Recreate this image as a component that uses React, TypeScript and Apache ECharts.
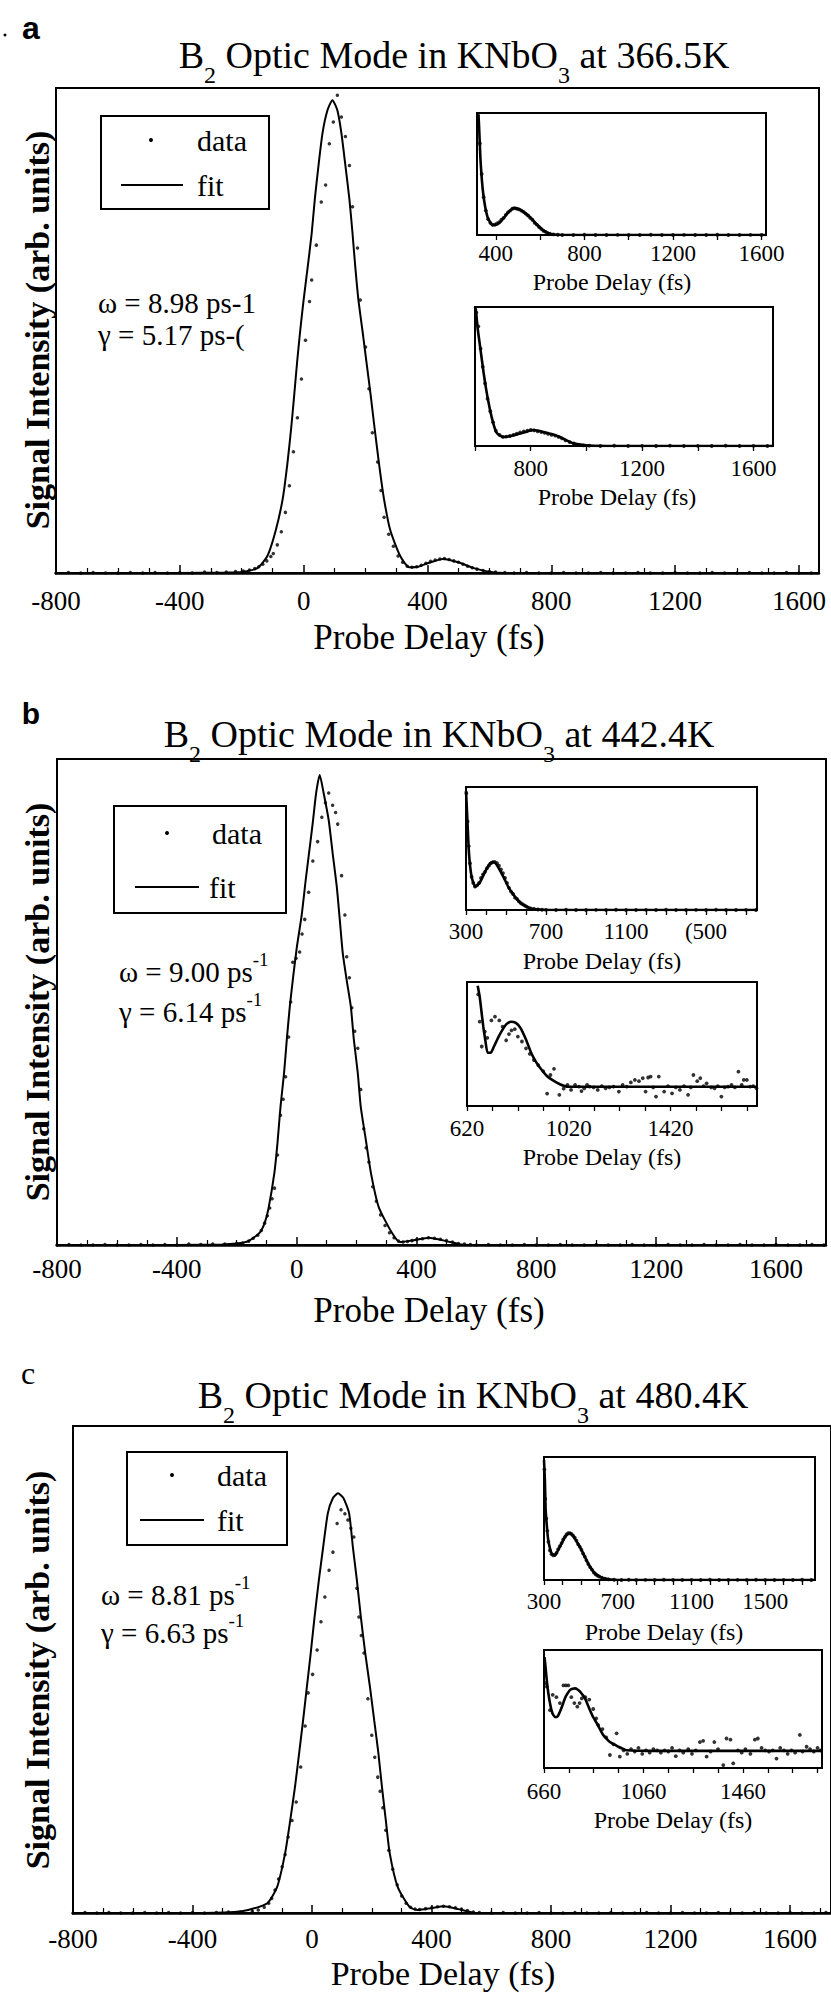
import React, { useEffect, useRef } from 'react';
import * as echarts from 'echarts';

const SERIF = '"Liberation Serif", "Times New Roman", Times, serif';
const SANS = '"Liberation Sans", Arial, Helvetica, sans-serif';

// ---------- texts ----------
const PANEL_LETTERS = ['a', 'b', 'c'];
const TEMPERATURES = ['366.5K', '442.4K', '480.4K'];
const X_TITLE = 'Probe Delay (fs)';
const Y_TITLE = 'Signal Intensity (arb. units)';
const LEGEND_LABELS = ['data', 'fit'];

// ---------- inset axes ----------
const A1_LABEL_VALUES = [400, 800, 1200, 1600];
const A1_LABELS = ['400', '800', '1200', '1600'];
const A1_TICKS = [400, 600, 800, 1000, 1200, 1400, 1600];
const A2_LABEL_VALUES = [800, 1200, 1600];
const A2_LABELS = ['800', '1200', '1600'];
const A2_TICKS = [600, 800, 1000, 1200, 1400, 1600];
const B1_LABEL_VALUES = [300, 700, 1100, 1500];
const B1_LABELS = ['300', '700', '1100', '(500'];
const B1_TICKS = [300, 400, 500, 600, 700, 800, 900, 1000, 1100, 1200, 1300, 1400, 1500, 1600, 1700];
const B2_LABEL_VALUES = [620, 1020, 1420];
const B2_LABELS = ['620', '1020', '1420'];
const B2_TICKS = [620, 720, 820, 920, 1020, 1120, 1220, 1320, 1420, 1520, 1620, 1720];
const C1_LABEL_VALUES = [300, 700, 1100, 1500];
const C1_LABELS = ['300', '700', '1100', '1500'];
const C1_TICKS = [300, 400, 500, 600, 700, 800, 900, 1000, 1100, 1200, 1300, 1400, 1500, 1600, 1700];
const C2_LABEL_VALUES = [660, 1060, 1460];
const C2_LABELS = ['660', '1060', '1460'];
const C2_TICKS = [660, 760, 860, 960, 1060, 1160, 1260, 1360, 1460, 1560, 1660, 1760];

// ---------- panel a, main ----------
const A_FIT_X = [-800, -400, -250, -200, -150, -117, -90, -67, -52, -40, -30, -21, -11, 0, 13, 26, 36, 48, 61, 77, 93, 109, 122, 135, 148, 158, 167, 177, 190, 203, 216, 229, 243, 259, 280, 312, 341, 370, 400, 450, 500, 550, 604, 650, 800, 1200, 1665];
const A_FIT_Y = [0, 0, 0.001, 0.002, 0.01, 0.035, 0.088, 0.155, 0.228, 0.30, 0.37, 0.435, 0.50, 0.563, 0.63, 0.70, 0.77, 0.84, 0.907, 0.954, 0.975, 0.954, 0.907, 0.84, 0.77, 0.70, 0.63, 0.563, 0.50, 0.435, 0.37, 0.30, 0.228, 0.155, 0.088, 0.035, 0.012, 0.013, 0.02, 0.029, 0.022, 0.01, 0.002, 0, 0, 0, 0];
const A_DATA_X = [-800, -760, -720, -680, -640, -600, -560, -520, -480, -440, -400, -360, -320, -280, -250, -220, -195, -175, -158, -145, -132, -119, -106, -98, -85, -72, -59, -46, -33, -20, -7, 6, 19, 26, 41, 57, 71, 83, 96, 109, 122, 135, 148, 158, 174, 183, 200, 211, 222, 239, 250, 260, 275, 290, 305, 320, 335, 350, 365, 380, 395, 410, 425, 440, 455, 470, 485, 500, 515, 530, 545, 560, 580, 600, 620, 650, 680, 720, 760, 800, 840, 880, 920, 960, 1000, 1040, 1080, 1120, 1160, 1200, 1240, 1280, 1320, 1360, 1400, 1440, 1480, 1520, 1560, 1600, 1640];
const A_DATA_Y = [0, 0.001, 0, 0.001, 0, 0, 0.001, 0, 0.001, 0, 0.001, 0, 0.002, 0.001, 0.002, 0.003, 0.004, 0.006, 0.009, 0.013, 0.018, 0.025, 0.034, 0.04, 0.058, 0.085, 0.125, 0.18, 0.25, 0.32, 0.40, 0.48, 0.56, 0.604, 0.676, 0.765, 0.80, 0.885, 0.93, 0.985, 0.94, 0.90, 0.84, 0.755, 0.67, 0.563, 0.466, 0.38, 0.289, 0.229, 0.17, 0.115, 0.08, 0.055, 0.035, 0.022, 0.014, 0.012, 0.013, 0.016, 0.02, 0.024, 0.027, 0.029, 0.03, 0.028, 0.025, 0.022, 0.018, 0.014, 0.011, 0.008, 0.005, 0.003, 0.002, 0.001, 0, 0.001, 0, 0, 0.001, 0, 0, 0.001, 0, 0, 0.001, 0, 0, 0.001, 0, 0, 0.001, 0, 0, 0.001, 0, 0, 0.001, 0, 0];

// ---------- panel a, insets ----------
const A1_FIT_X = [315, 322, 331, 343, 362, 386, 405, 422, 440, 458, 481, 500, 517, 535, 553, 571, 589, 607, 625, 643, 661, 700, 800, 1000, 1200, 1400, 1620];
const A1_FIT_Y = [1.0, 0.97, 0.61, 0.34, 0.15, 0.08, 0.085, 0.11, 0.15, 0.19, 0.22, 0.215, 0.20, 0.175, 0.15, 0.115, 0.08, 0.05, 0.025, 0.01, 0.003, 0, 0, 0, 0, 0, 0];
const A1_DATA_X = [320, 328, 336, 345, 355, 365, 375, 385, 395, 405, 415, 425, 435, 445, 455, 465, 475, 485, 495, 505, 515, 525, 535, 545, 555, 565, 575, 585, 595, 605, 615, 625, 635, 645, 660, 680, 700, 750, 800, 850, 900, 950, 1000, 1050, 1100, 1150, 1200, 1250, 1300, 1350, 1400, 1450, 1500, 1550, 1600];
const A1_DATA_Y = [0.98, 0.75, 0.5, 0.31, 0.2, 0.13, 0.1, 0.085, 0.085, 0.095, 0.105, 0.125, 0.14, 0.165, 0.185, 0.2, 0.215, 0.22, 0.215, 0.21, 0.2, 0.19, 0.175, 0.16, 0.14, 0.125, 0.1, 0.085, 0.065, 0.05, 0.035, 0.025, 0.015, 0.01, 0.005, 0.002, 0, 0, 0.002, 0, 0, 0.001, 0, 0, 0.002, 0, 0, 0.001, 0, 0, 0.002, 0, 0, 0.001, 0];
const A2_FIT_X = [600, 603, 610, 620, 630, 639, 648, 656, 666, 676, 690, 705, 724, 743, 762, 781, 795, 809, 828, 847, 866, 886, 905, 924, 952, 980, 1010, 1100, 1300, 1500, 1670];
const A2_FIT_Y = [1.0, 0.98, 0.84, 0.69, 0.54, 0.42, 0.32, 0.24, 0.16, 0.10, 0.075, 0.065, 0.07, 0.08, 0.09, 0.10, 0.11, 0.115, 0.11, 0.10, 0.09, 0.08, 0.065, 0.045, 0.02, 0.01, 0.003, 0, 0, 0, 0];
const A2_DATA_X = [605, 612, 620, 628, 636, 645, 655, 665, 675, 688, 700, 712, 725, 738, 750, 762, 775, 788, 800, 812, 825, 838, 850, 862, 875, 888, 900, 912, 925, 940, 955, 970, 990, 1010, 1050, 1100, 1150, 1200, 1250, 1300, 1350, 1400, 1450, 1500, 1550, 1600, 1650];
const A2_DATA_Y = [0.96, 0.86, 0.7, 0.57, 0.45, 0.34, 0.25, 0.17, 0.11, 0.08, 0.065, 0.068, 0.072, 0.08, 0.088, 0.098, 0.105, 0.11, 0.115, 0.112, 0.105, 0.1, 0.095, 0.088, 0.08, 0.075, 0.065, 0.055, 0.04, 0.028, 0.018, 0.01, 0.004, 0.002, 0, 0.002, 0, 0.001, 0, 0.002, 0, 0.001, 0, 0.002, 0, 0.001, 0];

// ---------- panel b, main ----------
const B_FIT_X = [-800, -400, -250, -200, -161, -124, -107, -94, -74, -64, -54, -42, -33, -23, -12, 0, 17, 30, 42, 54, 65, 77, 90, 107, 120, 134, 144, 154, 167, 181, 191, 204, 214, 231, 248, 274, 318, 345, 390, 442, 500, 549, 600, 800, 1200, 1767];
const B_FIT_Y = [0, 0, 0.001, 0.003, 0.008, 0.025, 0.045, 0.075, 0.15, 0.21, 0.284, 0.354, 0.422, 0.49, 0.55, 0.61, 0.68, 0.75, 0.81, 0.87, 0.93, 0.967, 0.93, 0.874, 0.807, 0.737, 0.669, 0.60, 0.545, 0.49, 0.422, 0.354, 0.284, 0.216, 0.148, 0.078, 0.025, 0.006, 0.01, 0.015, 0.008, 0.001, 0, 0, 0, 0];
const B_DATA_X = [-800, -760, -720, -680, -640, -600, -560, -520, -480, -440, -400, -360, -320, -280, -240, -200, -180, -160, -145, -130, -118, -107, -98, -90, -82, -74, -64, -54, -45, -37, -27, -20, -13, -2, 10, 18, 27, 40, 54, 70, 84, 96, 107, 120, 130, 137, 150, 161, 167, 176, 184, 194, 204, 214, 224, 232, 241, 254, 266, 280, 295, 310, 325, 340, 355, 370, 385, 400, 420, 440, 460, 480, 500, 520, 540, 560, 580, 600, 640, 680, 720, 760, 800, 840, 880, 920, 960, 1000, 1040, 1080, 1120, 1160, 1200, 1240, 1280, 1320, 1360, 1400, 1440, 1480, 1520, 1560, 1600, 1640, 1680, 1720, 1760];
const B_DATA_Y = [0, 0.001, 0, 0, 0.001, 0, 0, 0.001, 0, 0.001, 0, 0.002, 0.001, 0.002, 0.002, 0.003, 0.004, 0.008, 0.014, 0.02, 0.03, 0.045, 0.06, 0.076, 0.095, 0.117, 0.185, 0.267, 0.30, 0.346, 0.428, 0.50, 0.582, 0.59, 0.603, 0.64, 0.67, 0.726, 0.79, 0.83, 0.88, 0.91, 0.93, 0.905, 0.89, 0.866, 0.76, 0.679, 0.593, 0.55, 0.488, 0.44, 0.405, 0.32, 0.239, 0.2, 0.171, 0.12, 0.09, 0.062, 0.04, 0.025, 0.015, 0.008, 0.006, 0.007, 0.009, 0.011, 0.013, 0.015, 0.014, 0.012, 0.009, 0.006, 0.003, 0.002, 0.001, 0, 0.001, 0, 0, 0.001, 0, 0, 0.001, 0, 0, 0.001, 0, 0, 0.001, 0, 0, 0.001, 0, 0, 0.001, 0, 0, 0.001, 0, 0, 0.001, 0, 0, 0.001, 0];

// ---------- panel b, insets ----------
const B1_FIT_X = [300, 305, 315, 328, 347, 368, 395, 420, 440, 460, 487, 514, 540, 554, 570, 593, 620, 650, 680, 750, 1000, 1300, 1755];
const B1_FIT_Y = [0.97, 0.8, 0.46, 0.27, 0.19, 0.22, 0.31, 0.38, 0.39, 0.35, 0.27, 0.18, 0.12, 0.09, 0.06, 0.035, 0.015, 0.006, 0.002, 0, 0, 0, 0];
const B1_DATA_X = [302, 308, 314, 320, 328, 336, 345, 355, 365, 375, 385, 395, 405, 415, 425, 435, 445, 455, 465, 475, 485, 495, 505, 515, 525, 535, 545, 555, 565, 575, 585, 595, 605, 620, 640, 660, 680, 700, 750, 800, 850, 900, 950, 1000, 1050, 1100, 1150, 1200, 1250, 1300, 1350, 1400, 1450, 1500, 1550, 1600, 1650, 1700, 1750];
const B1_DATA_Y = [0.95, 0.72, 0.52, 0.38, 0.27, 0.22, 0.19, 0.2, 0.22, 0.26, 0.29, 0.31, 0.34, 0.36, 0.38, 0.39, 0.39, 0.38, 0.36, 0.33, 0.3, 0.26, 0.22, 0.18, 0.15, 0.13, 0.1, 0.09, 0.07, 0.055, 0.045, 0.035, 0.025, 0.015, 0.008, 0.004, 0.002, 0.001, 0, 0.002, 0, 0, 0.001, 0, 0.002, 0, 0, 0.001, 0, 0.002, 0, 0, 0.001, 0, 0.002, 0, 0, 0.001, 0];
const B2_FIT_X = [662, 670, 677, 684, 692, 701, 713, 726, 742, 758, 775, 793, 812, 830, 851, 872, 893, 914, 935, 955, 985, 1018, 1100, 1300, 1500, 1760];
const B2_FIT_Y = [0.97, 0.88, 0.76, 0.64, 0.53, 0.43, 0.43, 0.48, 0.55, 0.61, 0.66, 0.68, 0.67, 0.63, 0.54, 0.43, 0.35, 0.29, 0.24, 0.21, 0.175, 0.155, 0.155, 0.155, 0.155, 0.155];
const B2_DATA_X = [664, 670, 678, 690, 700, 716, 730, 747, 760, 774, 785, 795, 808, 820, 836, 852, 867, 883, 900, 920, 935, 948, 962, 983, 1000, 1015, 1029, 1045, 1060, 1070, 1081, 1092, 1102, 1118, 1134, 1150, 1165, 1180, 1196, 1217, 1232, 1248, 1264, 1280, 1296, 1311, 1322, 1332, 1342, 1352, 1363, 1374, 1395, 1410, 1426, 1441, 1457, 1473, 1489, 1500, 1510, 1525, 1537, 1550, 1562, 1580, 1593, 1606, 1620, 1633, 1646, 1660, 1673, 1687, 1700, 1708, 1720, 1733, 1745, 1758];
const B2_DATA_Y = [0.9, 0.68, 0.48, 0.6, 0.55, 0.69, 0.72, 0.69, 0.64, 0.53, 0.58, 0.61, 0.62, 0.56, 0.52, 0.465, 0.42, 0.37, 0.33, 0.28, 0.10, 0.25, 0.30, 0.09, 0.14, 0.17, 0.13, 0.17, 0.156, 0.12, 0.143, 0.17, 0.156, 0.15, 0.13, 0.16, 0.143, 0.15, 0.156, 0.116, 0.17, 0.156, 0.19, 0.21, 0.2, 0.224, 0.116, 0.23, 0.237, 0.15, 0.076, 0.237, 0.116, 0.16, 0.102, 0.15, 0.13, 0.16, 0.09, 0.15, 0.25, 0.2, 0.224, 0.16, 0.183, 0.15, 0.143, 0.16, 0.076, 0.15, 0.156, 0.17, 0.15, 0.277, 0.17, 0.21, 0.21, 0.156, 0.16, 0.143];

// ---------- panel c, main ----------
const C_FIT_X = [-800, -400, -260, -214, -150, -117, -90, -73, -57, -43, -31, -18, -5, 8, 23, 37, 53, 70, 87, 105, 124, 137, 150, 163, 178, 194, 208, 222, 234, 247, 260, 287, 327, 354, 400, 441, 490, 548, 600, 800, 1200, 1737];
const C_FIT_Y = [0, 0, 0.002, 0.006, 0.02, 0.053, 0.123, 0.19, 0.259, 0.329, 0.39, 0.46, 0.53, 0.605, 0.684, 0.75, 0.821, 0.852, 0.862, 0.852, 0.821, 0.75, 0.684, 0.61, 0.534, 0.464, 0.396, 0.329, 0.259, 0.19, 0.123, 0.053, 0.012, 0.006, 0.01, 0.014, 0.008, 0, 0, 0, 0, 0];
const C_DATA_X = [-800, -760, -720, -680, -640, -600, -560, -520, -480, -440, -400, -360, -320, -280, -240, -200, -180, -160, -145, -135, -124, -112, -100, -90, -80, -67, -53, -38, -23, -13, 2, 17, 30, 43, 57, 70, 84, 97, 110, 120, 130, 140, 150, 157, 165, 174, 187, 200, 210, 220, 228, 237, 247, 257, 270, 285, 300, 315, 330, 345, 360, 380, 400, 420, 440, 460, 480, 500, 520, 540, 560, 600, 640, 680, 720, 760, 800, 840, 880, 920, 960, 1000, 1040, 1080, 1120, 1160, 1200, 1240, 1280, 1320, 1360, 1400, 1440, 1480, 1520, 1560, 1600, 1640, 1680, 1720];
const C_DATA_Y = [0, 0.001, 0, 0.001, 0, 0, 0.001, 0, 0.001, 0, 0.001, 0, 0.001, 0.002, 0.002, 0.004, 0.006, 0.012, 0.02, 0.03, 0.047, 0.07, 0.095, 0.12, 0.156, 0.19, 0.228, 0.3, 0.384, 0.452, 0.49, 0.54, 0.598, 0.649, 0.704, 0.741, 0.80, 0.828, 0.82, 0.807, 0.79, 0.772, 0.667, 0.608, 0.57, 0.534, 0.44, 0.365, 0.32, 0.279, 0.25, 0.216, 0.17, 0.129, 0.09, 0.058, 0.035, 0.02, 0.012, 0.008, 0.007, 0.009, 0.011, 0.013, 0.014, 0.013, 0.011, 0.008, 0.005, 0.002, 0.001, 0, 0.001, 0, 0, 0.001, 0, 0, 0.001, 0, 0, 0.001, 0, 0, 0.001, 0, 0, 0.001, 0, 0, 0.001, 0, 0, 0.001, 0, 0, 0.001, 0, 0, 0.001];

// ---------- panel c, insets ----------
const C1_FIT_X = [300, 305, 309, 316, 323, 341, 359, 372, 386, 400, 414, 426, 437, 450, 462, 478, 495, 513, 531, 549, 567, 585, 603, 621, 639, 660, 700, 1000, 1300, 1770];
const C1_FIT_Y = [0.975, 0.8, 0.57, 0.43, 0.325, 0.217, 0.2, 0.23, 0.27, 0.31, 0.35, 0.37, 0.38, 0.37, 0.35, 0.31, 0.27, 0.215, 0.16, 0.11, 0.07, 0.045, 0.027, 0.015, 0.01, 0.004, 0, 0, 0, 0];
const C1_DATA_X = [302, 307, 312, 318, 324, 332, 341, 350, 359, 368, 377, 386, 395, 404, 413, 422, 431, 440, 449, 458, 467, 476, 485, 494, 503, 512, 521, 530, 540, 550, 560, 570, 580, 590, 600, 615, 630, 650, 680, 720, 760, 800, 850, 900, 950, 1000, 1050, 1100, 1150, 1200, 1250, 1300, 1350, 1400, 1450, 1500, 1550, 1600, 1650, 1700, 1750];
const C1_DATA_Y = [0.9, 0.66, 0.5, 0.4, 0.31, 0.24, 0.21, 0.2, 0.205, 0.22, 0.25, 0.275, 0.3, 0.33, 0.35, 0.37, 0.38, 0.38, 0.375, 0.36, 0.345, 0.32, 0.29, 0.27, 0.245, 0.215, 0.19, 0.16, 0.13, 0.105, 0.085, 0.06, 0.045, 0.035, 0.027, 0.018, 0.01, 0.005, 0.002, 0, 0.002, 0, 0.001, 0, 0.002, 0, 0, 0.001, 0, 0.002, 0, 0, 0.001, 0, 0.002, 0, 0, 0.001, 0, 0.002, 0];
const C2_FIT_X = [662, 666, 671, 677, 684, 690, 697, 708, 716, 724, 734, 744, 754, 764, 775, 785, 795, 805, 815, 825, 835, 845, 858, 872, 885, 898, 911, 925, 942, 959, 975, 992, 1100, 1300, 1500, 1775];
const C2_FIT_Y = [0.94, 0.86, 0.746, 0.64, 0.55, 0.49, 0.45, 0.43, 0.44, 0.477, 0.53, 0.59, 0.63, 0.66, 0.672, 0.675, 0.665, 0.647, 0.62, 0.59, 0.54, 0.49, 0.43, 0.38, 0.33, 0.28, 0.25, 0.22, 0.2, 0.18, 0.165, 0.15, 0.145, 0.145, 0.145, 0.145];
const C2_DATA_X = [664, 668, 671, 684, 695, 710, 724, 738, 748, 758, 770, 782, 794, 803, 812, 826, 842, 858, 870, 878, 895, 910, 925, 940, 952, 965, 980, 995, 1010, 1025, 1040, 1055, 1070, 1085, 1100, 1115, 1130, 1145, 1160, 1175, 1190, 1205, 1220, 1240, 1255, 1270, 1287, 1300, 1314, 1330, 1345, 1360, 1381, 1394, 1410, 1421, 1440, 1455, 1470, 1490, 1508, 1520, 1535, 1550, 1565, 1580, 1595, 1610, 1625, 1640, 1655, 1670, 1689, 1700, 1716, 1730, 1745, 1760, 1772];
const C2_DATA_Y = [0.8, 0.72, 0.69, 0.49, 0.62, 0.6, 0.55, 0.70, 0.70, 0.70, 0.6, 0.55, 0.52, 0.55, 0.59, 0.6, 0.58, 0.5, 0.42, 0.364, 0.33, 0.26, 0.11, 0.2, 0.294, 0.096, 0.15, 0.12, 0.16, 0.14, 0.17, 0.12, 0.15, 0.13, 0.16, 0.15, 0.13, 0.15, 0.14, 0.17, 0.1, 0.15, 0.13, 0.16, 0.12, 0.15, 0.22, 0.23, 0.096, 0.14, 0.22, 0.16, 0.025, 0.25, 0.24, 0.04, 0.15, 0.13, 0.16, 0.12, 0.24, 0.25, 0.17, 0.15, 0.14, 0.15, 0.08, 0.17, 0.15, 0.12, 0.15, 0.13, 0.28, 0.14, 0.18, 0.16, 0.14, 0.17, 0.15];

// ---------- helpers ----------
const zip = (xs: number[], ys: number[]) => xs.map((x, i) => [x, ys[i]]);

function buildOption() {
  const grids: any[] = [];
  const xAxes: any[] = [];
  const yAxes: any[] = [];
  const series: any[] = [];
  const g: any[] = [];

  const addPlot = (p: any) => {
    const gi = grids.length;
    grids.push({
      left: p.left, top: p.top, width: p.width, height: p.height,
      show: true, borderColor: '#000', borderWidth: 2,
      backgroundColor: p.inset ? '#fff' : 'transparent',
    });
    const common = {
      type: 'value', gridIndex: gi, min: p.min, max: p.max,
      splitLine: { show: false },
      axisLine: { show: true, onZero: false, lineStyle: { color: '#000', width: p.inset ? 2 : 2.5 } },
    };
    if (!p.inset) {
      xAxes.push({
        ...common,
        interval: 400,
        axisTick: { show: true, inside: true, length: 8, lineStyle: { color: '#000', width: 1.5 } },
        minorTick: { show: true, splitNumber: 4, length: 5, lineStyle: { color: '#000', width: 1.2 } },
        axisLabel: {
          show: true, margin: p.margin, color: '#000', fontFamily: SERIF, fontSize: 27,
          showMaxLabel: false, formatter: (v: number) => String(v),
        },
      });
    } else {
      xAxes.push({
        ...common,
        axisTick: { show: true, inside: false, length: 5, customValues: p.ticks, lineStyle: { color: '#000', width: 1.3 } },
        axisLabel: {
          show: true, margin: p.margin, color: '#000', fontFamily: SERIF, fontSize: 23,
          customValues: p.labelValues,
          formatter: (v: number) => {
            const k = p.labelValues.indexOf(v);
            return k >= 0 ? p.labels[k] : '';
          },
        },
      });
    }
    yAxes.push({
      type: 'value', gridIndex: gi, min: 0, max: 1,
      axisLine: { show: true, onZero: false, lineStyle: { color: '#000', width: 2 } },
      axisTick: { show: false }, axisLabel: { show: false }, splitLine: { show: false },
    });
    series.push({
      type: 'line', xAxisIndex: gi, yAxisIndex: gi, data: zip(p.fitX, p.fitY),
      showSymbol: false, symbol: 'none', smooth: 0.2,
      lineStyle: { color: '#000', width: p.inset ? 2.6 : 2 }, z: 3, silent: true,
    });
    series.push({
      type: 'scatter', xAxisIndex: gi, yAxisIndex: gi, data: zip(p.dataX, p.dataY),
      symbol: 'circle', symbolSize: p.inset ? 3.8 : 3.5, itemStyle: { color: '#000' }, z: 4, silent: true,
    });
  };

  const txt = (x: number, y: number, t: string, size: number, extra: any = {}) => ({
    type: 'text', x, y, z: 100, silent: true,
    style: {
      text: t, fontFamily: SERIF, fontSize: size, fill: '#000',
      align: 'left', verticalAlign: 'middle', ...extra,
    },
  });

  const title = (cx: number, cy: number, temp: string) => ({
    type: 'text', x: cx, y: cy, z: 100, silent: true,
    style: {
      text: `{n|B}{s|2}{n| Optic Mode in KNbO}{s|3}{n| at ${temp}}`,
      align: 'center', verticalAlign: 'middle', fill: '#000',
      rich: {
        n: { fontFamily: SERIF, fontSize: 38, lineHeight: 46, fill: '#000', color: '#000' },
        s: { fontFamily: SERIF, fontSize: 24, lineHeight: 46, padding: [40, 0, 0, 0], fill: '#000', color: '#000' },
      },
    },
  });

  const supText = (x: number, y: number, base: string) => ({
    type: 'text', x, y, z: 100, silent: true,
    style: {
      text: `{n|${base}}{p|-1}`,
      align: 'left', verticalAlign: 'middle', fill: '#000',
      rich: {
        n: { fontFamily: SERIF, fontSize: 29, lineHeight: 36, fill: '#000', color: '#000' },
        p: { fontFamily: SERIF, fontSize: 19, lineHeight: 36, padding: [0, 0, 26, 0], fill: '#000', color: '#000' },
      },
    },
  });

  const legend = (bx: number, by: number, bw: number, bh: number, dotX: number, dataY: number, lineX1: number, lineX2: number, fitY: number, textX: number, fitTextX: number) => {
    g.push({ type: 'rect', z: 90, silent: true, shape: { x: bx, y: by, width: bw, height: bh }, style: { fill: '#fff', stroke: '#000', lineWidth: 2 } });
    g.push({ type: 'circle', z: 100, silent: true, shape: { cx: dotX, cy: dataY, r: 2 }, style: { fill: '#000' } });
    g.push(txt(textX, dataY, LEGEND_LABELS[0], 30));
    g.push({ type: 'line', z: 100, silent: true, shape: { x1: lineX1, y1: fitY, x2: lineX2, y2: fitY }, style: { stroke: '#000', lineWidth: 2 } });
    g.push(txt(fitTextX, fitY, LEGEND_LABELS[1], 30));
  };

  const yTitle = (cy: number) => ({
    type: 'text', x: 37, y: cy, rotation: Math.PI / 2, z: 100, silent: true,
    style: { text: Y_TITLE, fontFamily: SERIF, fontSize: 34, fontWeight: 'bold', fill: '#000', align: 'center', verticalAlign: 'middle' },
  });

  // ===== Panel a =====
  addPlot({ left: 56, top: 88, width: 763, height: 485, min: -800, max: 1665, margin: 14, fitX: A_FIT_X, fitY: A_FIT_Y, dataX: A_DATA_X, dataY: A_DATA_Y });
  addPlot({ inset: true, left: 477, top: 113, width: 289, height: 122, min: 315, max: 1620, margin: 7, ticks: A1_TICKS, labelValues: A1_LABEL_VALUES, labels: A1_LABELS, fitX: A1_FIT_X, fitY: A1_FIT_Y, dataX: A1_DATA_X, dataY: A1_DATA_Y });
  addPlot({ inset: true, left: 475, top: 307, width: 298, height: 139, min: 600, max: 1670, margin: 11, ticks: A2_TICKS, labelValues: A2_LABEL_VALUES, labels: A2_LABELS, fitX: A2_FIT_X, fitY: A2_FIT_Y, dataX: A2_DATA_X, dataY: A2_DATA_Y });
  g.push({ type: 'circle', z: 100, silent: true, shape: { cx: 5, cy: 35, r: 1.5 }, style: { fill: '#000' } });
  g.push(txt(31, 28, PANEL_LETTERS[0], 32, { fontFamily: SANS, fontWeight: 'bold', align: 'center' }));
  g.push(title(454, 55, TEMPERATURES[0]));
  g.push(yTitle(330));
  g.push(txt(429, 637, X_TITLE, 35, { align: 'center' }));
  g.push(txt(612, 282, X_TITLE, 24, { align: 'center' }));
  g.push(txt(617, 497, X_TITLE, 24, { align: 'center' }));
  legend(101, 116, 168, 93, 151, 140, 121, 183, 185, 197, 197);
  g.push(txt(98, 303, 'ω = 8.98 ps-1', 29));
  g.push(txt(98, 335, 'γ = 5.17 ps-(', 29));

  // ===== Panel b =====
  addPlot({ left: 57, top: 759, width: 769, height: 486, min: -800, max: 1767, margin: 10, fitX: B_FIT_X, fitY: B_FIT_Y, dataX: B_DATA_X, dataY: B_DATA_Y });
  addPlot({ inset: true, left: 466, top: 787, width: 291, height: 123, min: 300, max: 1755, margin: 10, ticks: B1_TICKS, labelValues: B1_LABEL_VALUES, labels: B1_LABELS, fitX: B1_FIT_X, fitY: B1_FIT_Y, dataX: B1_DATA_X, dataY: B1_DATA_Y });
  addPlot({ inset: true, left: 467, top: 982, width: 290, height: 124, min: 620, max: 1760, margin: 11, ticks: B2_TICKS, labelValues: B2_LABEL_VALUES, labels: B2_LABELS, fitX: B2_FIT_X, fitY: B2_FIT_Y, dataX: B2_DATA_X, dataY: B2_DATA_Y });
  g.push(txt(31, 713, PANEL_LETTERS[1], 30, { fontFamily: SANS, fontWeight: 'bold', align: 'center' }));
  g.push(title(439, 734, TEMPERATURES[1]));
  g.push(yTitle(1002));
  g.push(txt(429, 1310, X_TITLE, 35, { align: 'center' }));
  g.push(txt(602, 961, X_TITLE, 24, { align: 'center' }));
  g.push(txt(602, 1157, X_TITLE, 24, { align: 'center' }));
  legend(114, 806, 172, 107, 167, 833, 135, 199, 887, 212, 209);
  g.push(supText(119, 972, 'ω = 9.00 ps'));
  g.push(supText(119, 1012, 'γ = 6.14 ps'));

  // ===== Panel c =====
  addPlot({ left: 73, top: 1426, width: 760, height: 487, min: -800, max: 1737, margin: 12, fitX: C_FIT_X, fitY: C_FIT_Y, dataX: C_DATA_X, dataY: C_DATA_Y });
  addPlot({ inset: true, left: 544, top: 1457, width: 271, height: 123, min: 300, max: 1770, margin: 10, ticks: C1_TICKS, labelValues: C1_LABEL_VALUES, labels: C1_LABELS, fitX: C1_FIT_X, fitY: C1_FIT_Y, dataX: C1_DATA_X, dataY: C1_DATA_Y });
  addPlot({ inset: true, left: 544, top: 1650, width: 278, height: 118, min: 660, max: 1778, margin: 12, ticks: C2_TICKS, labelValues: C2_LABEL_VALUES, labels: C2_LABELS, fitX: C2_FIT_X, fitY: C2_FIT_Y, dataX: C2_DATA_X, dataY: C2_DATA_Y });
  g.push(txt(28, 1373, PANEL_LETTERS[2], 32, { align: 'center' }));
  g.push(title(473, 1395, TEMPERATURES[2]));
  g.push(yTitle(1670));
  g.push(txt(443, 1973, X_TITLE, 34, { align: 'center' }));
  g.push(txt(664, 1632, X_TITLE, 24, { align: 'center' }));
  g.push(txt(673, 1820, X_TITLE, 24, { align: 'center' }));
  legend(127, 1452, 160, 93, 172, 1475, 140, 204, 1520, 217, 217);
  g.push(supText(101, 1595, 'ω = 8.81 ps'));
  g.push(supText(101, 1633, 'γ = 6.63 ps'));

  return {
    animation: false,
    backgroundColor: '#fff',
    grid: grids,
    xAxis: xAxes,
    yAxis: yAxes,
    series,
    graphic: { elements: g },
  };
}

export default function App() {
  const ref = useRef<HTMLDivElement>(null);
  useEffect(() => {
    if (!ref.current) return;
    const chart = echarts.init(ref.current, null, { renderer: 'svg', width: 831, height: 1993 });
    chart.setOption(buildOption() as any);
    return () => chart.dispose();
  }, []);
  return (
    <div
      ref={ref}
      style={{ position: 'absolute', left: 0, top: 0, width: 831, height: 1993, background: '#fff' }}
    />
  );
}
